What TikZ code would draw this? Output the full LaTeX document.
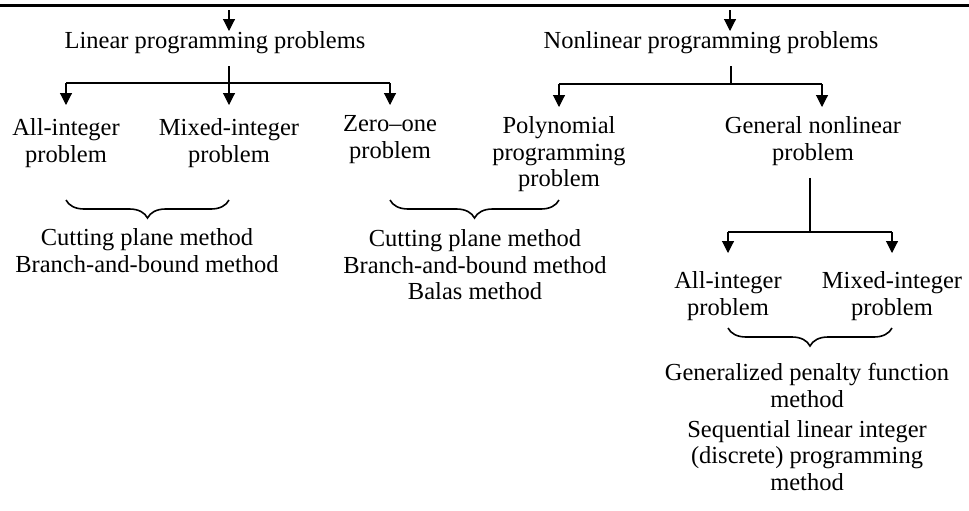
\documentclass[tikz,border=0pt]{standalone}
\usepackage{fontspec}
\setmainfont{Liberation Serif}
\usetikzlibrary{arrows.meta, positioning, decorations.pathreplacing}

\tikzset{
  lbl/.style={font=\fontsize{12.25}{13.3}\selectfont, align=center, inner sep=0pt, anchor=north},
  arr/.style={-{Triangle[length=6pt, width=6pt]}},
  brc/.style={decorate, decoration={brace, mirror, amplitude=9pt}, line width=0.8pt},
}

\begin{document}
\begin{tikzpicture}[x=0.5pt, y=-0.5pt, line width=0.55pt]
  \useasboundingbox (0,0) rectangle (969,510);
  % Rule on top
  \draw[line width=1.5pt] (0,5) -- (969,5);

  % Top level
  \node[lbl] (lin)  at (215,31) {Linear programming problems};
  \node[lbl] (nlin) at (711,31) {Nonlinear programming problems};
  \coordinate (linIn)  at (229,10);
  \coordinate (nlinIn) at (730,10);
  \draw[arr] (linIn) -- (linIn |- lin.north);
  \draw[arr] (nlinIn) -- (nlinIn |- nlin.north);

  % Linear branch
  \node[lbl] (ai1) at (66,118)  {All-integer\\problem};
  \node[lbl] (mi1) at (229,118) {Mixed-integer\\problem};
  \node[lbl] (zo)  at (390,115) {Zero--one\\problem};
  \coordinate (linB) at (229,83);
  \coordinate (lvlA) at (0,105);
  \draw[shorten <=6pt] (linB |- lin.south) -- (linB);
  \draw (ai1 |- linB) -- (zo |- linB);
  \foreach \n in {ai1, mi1, zo}
    \draw[arr] (\n |- linB) -- (\n |- lvlA);

  % Nonlinear branch
  \node[lbl] (poly) at (559,116) {Polynomial\\programming\\problem};
  \node[lbl] (gen)  at (813,116) {General nonlinear\\problem};
  \coordinate (nlinB) at (731,84);
  \coordinate (genIn) at (822,84);
  \coordinate (lvlB) at (0,107);
  \draw[shorten <=6pt] (nlinB |- nlin.south) -- (nlinB);
  \draw (poly |- nlinB) -- (genIn);
  \draw[arr] (poly |- nlinB) -- (poly |- lvlB);
  \draw[arr] (genIn) -- (genIn |- lvlB);

  % General nonlinear split
  \node[lbl] (ai2) at (728,271) {All-integer\\problem};
  \node[lbl] (mi2) at (892,271) {Mixed-integer\\problem};
  \coordinate (genB) at (810,232);
  \coordinate (lvlC) at (0,253);
  \draw[shorten <=6pt] (genB |- gen.south) -- (genB);
  \draw (ai2 |- genB) -- (mi2 |- genB);
  \foreach \n in {ai2, mi2}
    \draw[arr] (\n |- genB) -- (\n |- lvlC);

  % Braces and methods
  \coordinate (brA) at (0,200);
  \coordinate (brB) at (0,328);
  \draw[brc] (ai1 |- brA) -- (mi1 |- brA);
  \draw[brc] (zo |- brA) -- (poly |- brA);
  \draw[brc] (ai2 |- brB) -- (mi2 |- brB);
  \node[lbl] (m1) at (147,228) {Cutting plane method\\Branch-and-bound method};
  \node[lbl] (m2) at (475,229) {Cutting plane method\\Branch-and-bound method\\Balas method};
  \node[lbl] (m3) at (807,363) {Generalized penalty function\\method\\[1.5pt]Sequential linear integer\\(discrete) programming\\method};
\end{tikzpicture}
\end{document}
